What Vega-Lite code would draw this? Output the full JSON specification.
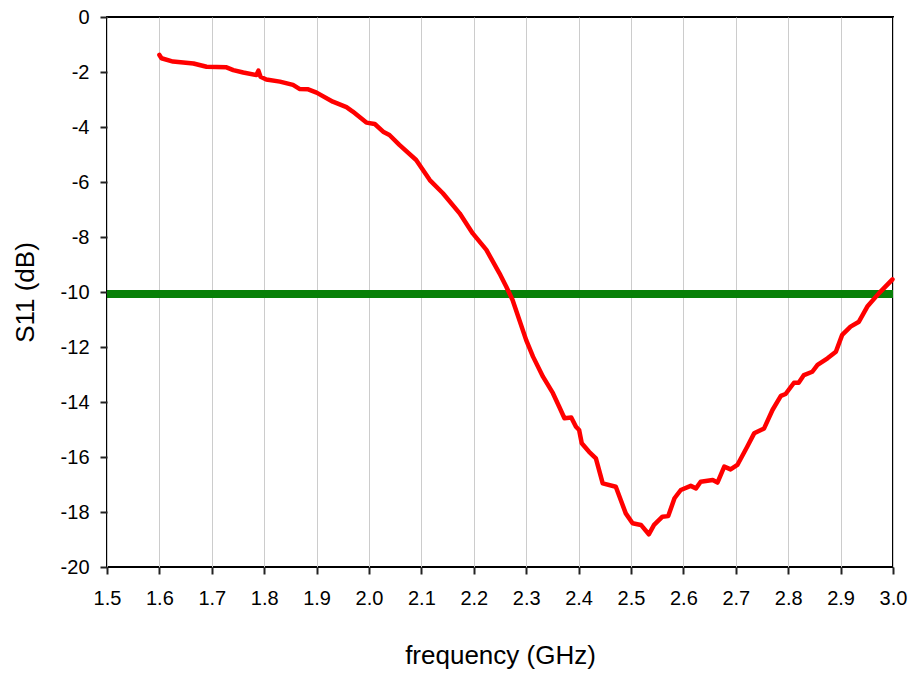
{
  "$schema": "https://vega.github.io/schema/vega-lite/v6.json",
  "width": 786,
  "height": 550,
  "autosize": {"type": "none"},
  "padding": {"left": 107, "top": 17, "right": 20, "bottom": 108},
  "background": "white",
  "config": {
    "font": "Liberation Sans",
    "view": {"stroke": "black", "strokeWidth": 2},
    "axis": {"domain": false, "tickColor": "#222", "tickWidth": 2, "tickSize": 7, "labelFontSize": 20, "labelColor": "black", "titleFontSize": 26, "titleFontWeight": "normal", "titleColor": "black"}
  },
  "data": {"values": [
    {"f": 1.600, "s": -1.38}, {"f": 1.604, "s": -1.50}, {"f": 1.626, "s": -1.62}, {"f": 1.665, "s": -1.69},
    {"f": 1.690, "s": -1.81}, {"f": 1.728, "s": -1.83}, {"f": 1.741, "s": -1.93}, {"f": 1.760, "s": -2.02},
    {"f": 1.785, "s": -2.11}, {"f": 1.789, "s": -1.95}, {"f": 1.793, "s": -2.17}, {"f": 1.804, "s": -2.27},
    {"f": 1.830, "s": -2.35}, {"f": 1.855, "s": -2.47}, {"f": 1.868, "s": -2.62}, {"f": 1.884, "s": -2.63},
    {"f": 1.900, "s": -2.75}, {"f": 1.931, "s": -3.08}, {"f": 1.957, "s": -3.28}, {"f": 1.969, "s": -3.44},
    {"f": 1.995, "s": -3.84}, {"f": 2.011, "s": -3.89}, {"f": 2.027, "s": -4.17}, {"f": 2.039, "s": -4.29},
    {"f": 2.058, "s": -4.65}, {"f": 2.090, "s": -5.20}, {"f": 2.116, "s": -5.93}, {"f": 2.141, "s": -6.41},
    {"f": 2.173, "s": -7.14}, {"f": 2.198, "s": -7.87}, {"f": 2.224, "s": -8.47}, {"f": 2.249, "s": -9.32},
    {"f": 2.262, "s": -9.81}, {"f": 2.274, "s": -10.29}, {"f": 2.300, "s": -11.75}, {"f": 2.313, "s": -12.35},
    {"f": 2.332, "s": -13.08}, {"f": 2.351, "s": -13.68}, {"f": 2.363, "s": -14.17}, {"f": 2.373, "s": -14.59},
    {"f": 2.386, "s": -14.56}, {"f": 2.395, "s": -14.90}, {"f": 2.401, "s": -15.02}, {"f": 2.406, "s": -15.50},
    {"f": 2.420, "s": -15.81}, {"f": 2.433, "s": -16.05}, {"f": 2.446, "s": -16.96}, {"f": 2.471, "s": -17.08},
    {"f": 2.490, "s": -18.05}, {"f": 2.503, "s": -18.41}, {"f": 2.519, "s": -18.47}, {"f": 2.534, "s": -18.81},
    {"f": 2.544, "s": -18.47}, {"f": 2.560, "s": -18.17}, {"f": 2.571, "s": -18.15}, {"f": 2.583, "s": -17.50},
    {"f": 2.595, "s": -17.20}, {"f": 2.614, "s": -17.05}, {"f": 2.624, "s": -17.14}, {"f": 2.633, "s": -16.90},
    {"f": 2.656, "s": -16.84}, {"f": 2.665, "s": -16.93}, {"f": 2.678, "s": -16.35}, {"f": 2.690, "s": -16.45},
    {"f": 2.703, "s": -16.29}, {"f": 2.722, "s": -15.62}, {"f": 2.735, "s": -15.14}, {"f": 2.754, "s": -14.96},
    {"f": 2.770, "s": -14.29}, {"f": 2.786, "s": -13.78}, {"f": 2.795, "s": -13.71}, {"f": 2.811, "s": -13.30},
    {"f": 2.820, "s": -13.30}, {"f": 2.830, "s": -13.02}, {"f": 2.846, "s": -12.90}, {"f": 2.856, "s": -12.65},
    {"f": 2.875, "s": -12.41}, {"f": 2.891, "s": -12.17}, {"f": 2.903, "s": -11.56}, {"f": 2.919, "s": -11.26},
    {"f": 2.935, "s": -11.08}, {"f": 2.951, "s": -10.53}, {"f": 2.973, "s": -10.05}, {"f": 2.999, "s": -9.54}
  ]},
  "layer": [
    {
      "mark": {"type": "rule", "color": "#088008", "strokeWidth": 8},
      "encoding": {"y": {"datum": -10.07, "type": "quantitative"}}
    },
    {
      "mark": {"type": "line", "color": "#ff0000", "strokeWidth": 4.5, "strokeJoin": "round", "strokeCap": "round"},
      "encoding": {
        "x": {"field": "f", "type": "quantitative", "scale": {"domain": [1.5, 3.0], "nice": false, "zero": false},
          "axis": {"title": "frequency (GHz)", "values": [1.5,1.6,1.7,1.8,1.9,2.0,2.1,2.2,2.3,2.4,2.5,2.6,2.7,2.8,2.9,3.0], "format": ".1f", "grid": true, "gridColor": "#cccccc", "gridWidth": 1, "labelPadding": 14, "titlePadding": 34, "labelFlush": false}},
        "y": {"field": "s", "type": "quantitative", "scale": {"domain": [-20, 0], "nice": false, "zero": false},
          "axis": {"title": "S11 (dB)", "values": [-20,-18,-16,-14,-12,-10,-8,-6,-4,-2,0], "labelExpr": "'' + datum.value", "grid": false, "labelPadding": 11, "titlePadding": 22, "labelFlush": false}}
      }
    }
  ]
}
